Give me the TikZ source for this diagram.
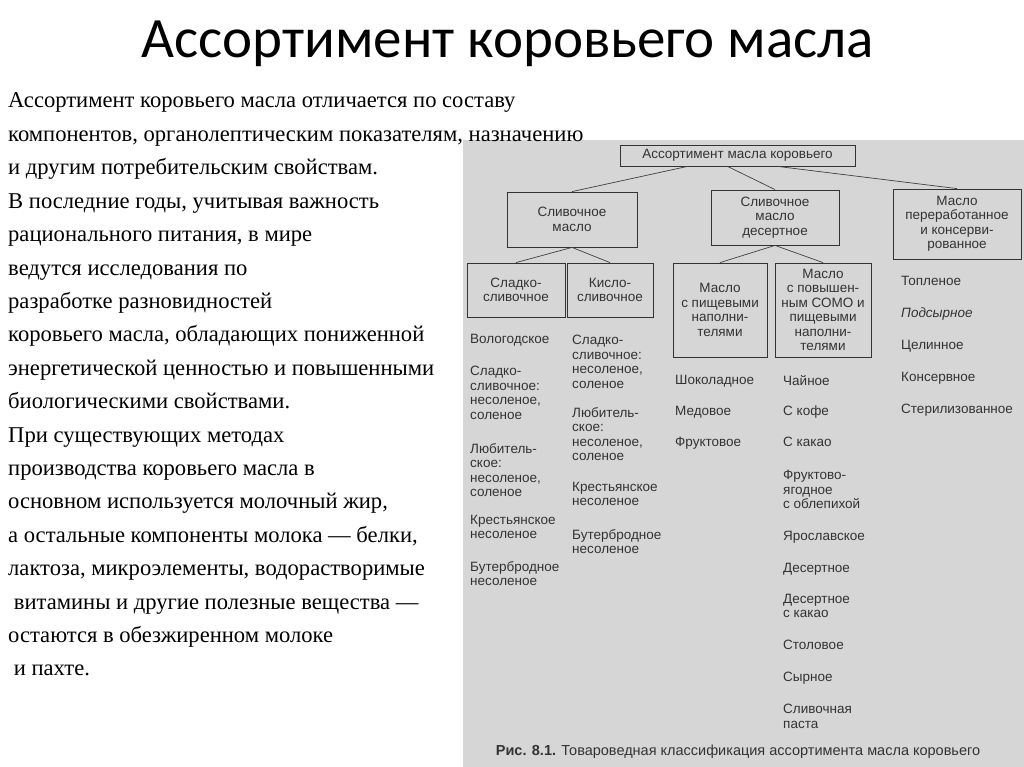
\documentclass[tikz,border=0pt]{standalone}
\usepackage{fontspec}
\setmainfont{Liberation Serif}
\newfontfamily\titlefont{Carlito}
\newfontfamily\dfont{Liberation Sans}
\begin{document}
\begin{tikzpicture}[x=1pt,y=-1pt,
  bx/.style={draw=black!80,line width=0.8pt,align=center,font=\dfont\fontsize{13.5}{14.5}\selectfont,text=black!80,inner sep=1pt},
  it/.style={anchor=north west,align=left,font=\dfont\fontsize{13.5}{14.5}\selectfont,text=black!80,inner sep=0pt},
  ln/.style={anchor=base west,font=\fontsize{22.6}{26}\selectfont,inner sep=0pt},
  cn/.style={draw=black!75,line width=0.7pt}]
\useasboundingbox (0,0) rectangle (1024,767);
\fill[white] (0,0) rectangle (1024,767);
\fill[black!16] (463,140) rectangle (1024,767);
\node[font=\titlefont\fontsize{57}{62}\selectfont] (title) at (508,44) {Ассортимент коровьего масла};
\foreach \t [count=\i] in {
Ассортимент коровьего масла отличается по составу,
компонентов{,} органолептическим показателям{,} назначению,
и другим потребительским свойствам.,
В последние годы{,} учитывая важность,
рационального питания{,} в мире,
ведутся исследования по,
разработке разновидностей,
коровьего масла{,} обладающих пониженной,
энергетической ценностью и повышенными,
биологическими свойствами.,
При существующих методах,
производства коровьего масла в,
основном используется молочный жир{,},
а остальные компоненты молока — белки{,},
лактоза{,} микроэлементы{,} водорастворимые,
\ витамины и другие полезные вещества —,
остаются в обезжиренном молоке,
\ и пахте.}
  \node[ln] (l\i) at (8,{108+33.4*(\i-1)}) {\t};
% boxes
\node[bx,minimum width=235,minimum height=21] (top) at (737.5,155.5) {Ассортимент масла коровьего};
\node[bx,minimum width=130,minimum height=55] (b1) at (572,219.5) {Сливочное\\масло};
\node[bx,minimum width=128,minimum height=55] (b2) at (775,217.5) {Сливочное\\масло\\десертное};
\node[bx,minimum width=128,minimum height=70] (b3) at (957,224) {Масло\\переработанное\\и консерви-\\рованное};
\node[bx,minimum width=98,minimum height=54] (c1) at (516,290) {Сладко-\\сливочное};
\node[bx,minimum width=86,minimum height=54] (c2) at (610,290) {Кисло-\\сливочное};
\node[bx,minimum width=94,minimum height=94] (c3) at (720,310) {Масло\\с пищевыми\\наполни-\\телями};
\node[bx,minimum width=96,minimum height=94] (c4) at (823,310) {Масло\\с повышен-\\ным СОМО и\\пищевыми\\наполни-\\телями};
\draw[cn] ([xshift=-50]top.south) -- (b1.north);
\draw[cn] ([xshift=-10]top.south) -- (b2.north);
\draw[cn] ([xshift=40]top.south) -- (b3.north);
\draw[cn] (b1.south) -- (c1.north);
\draw[cn] (b1.south) -- (c2.north);
\draw[cn] (b2.south) -- (c3.north);
\draw[cn] (b2.south) -- (c4.north);
% lists
\node[it] (a1) at (470,334) {Вологодское};
\node[it] (a2) at (470,366) {Сладко-\\сливочное:\\несоленое,\\соленое};
\node[it] (a3) at (470,443) {Любитель-\\ское:\\несоленое,\\соленое};
\node[it] (a4) at (470,515) {Крестьянское\\несоленое};
\node[it] (a5) at (470,561) {Бутербродное\\несоленое};
\node[it] (k1) at (572,335) {Сладко-\\сливочное:\\несоленое,\\соленое};
\node[it] (k2) at (572,407) {Любитель-\\ское:\\несоленое,\\соленое};
\node[it] (k3) at (572,482) {Крестьянское\\несоленое};
\node[it] (k4) at (572,529) {Бутербродное\\несоленое};
\node[it] (f1) at (675,375) {Шоколадное};
\node[it] (f2) at (675,406) {Медовое};
\node[it] (f3) at (675,437) {Фруктовое};
\node[it] (s1) at (783,375) {Чайное};
\node[it] (s2) at (783,406) {С кофе};
\node[it] (s3) at (783,437) {С какао};
\node[it] (s4) at (783,470) {Фруктово-\\ягодное\\с облепихой};
\node[it] (s5) at (783,531) {Ярославское};
\node[it] (s6) at (783,563) {Десертное};
\node[it] (s7) at (783,594) {Десертное\\с какао};
\node[it] (s8) at (783,640) {Столовое};
\node[it] (s9) at (783,672) {Сырное};
\node[it] (s10) at (783,704) {Сливочная\\паста};
\node[it] (p1) at (901,276) {Топленое};
\node[it] (p2) at (901,308) {\itshape Подсырное};
\node[it] (p3) at (901,340) {Целинное};
\node[it] (p4) at (901,372) {Консервное};
\node[it] (p5) at (901,404) {Стерилизованное};
\node[font=\dfont\fontsize{14.5}{16}\selectfont,text=black!80] (cap) at (738,752) {\textbf{Рис. 8.1.} Товароведная классификация ассортимента масла коровьего};
\end{tikzpicture}
\end{document}
